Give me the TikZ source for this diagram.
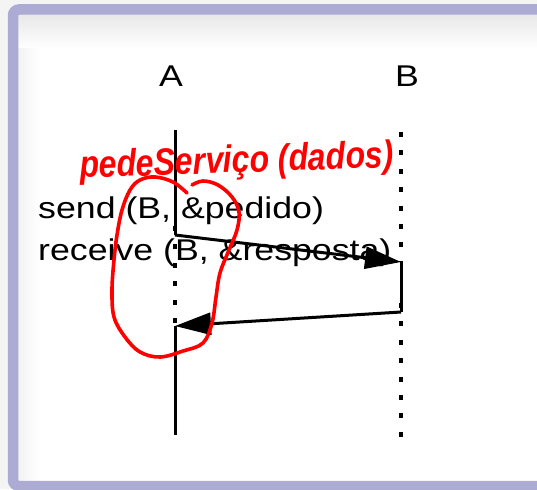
\documentclass[tikz,border=0pt]{standalone}
\usepackage{fontspec}
\setmainfont{Liberation Sans}
\usetikzlibrary{arrows.meta}
\definecolor{framepurple}{RGB}{171,171,211}
\definecolor{outsidegrey}{RGB}{244,244,244}
\definecolor{ink}{RGB}{255,0,0}
\tikzset{
  lbl/.style={font=\fontsize{30}{36}\selectfont, inner sep=0pt, xscale=1.19},
  life/.style={line width=3pt},
  lifedot/.style={line width=4pt, dash pattern=on 5pt off 13.4pt},
  msg/.style={line width=3pt, -{Triangle[length=36pt,width=22pt]}},
  hand/.style={ink, line width=3.6pt, line cap=round, line join=round},
}
\begin{document}
\begin{tikzpicture}[x=1pt,y=-1pt]
\useasboundingbox (0,0) rectangle (537,489);
% background and frame
\fill[outsidegrey] (0,0) rectangle (537,489);
\fill[white] (13,9.5) rectangle (560,486);
\shade[left color=black!5, right color=white] (18,15) rectangle (40,484);
\shade[top color=black!9, bottom color=white] (18,15) rectangle (537,48);
\draw[framepurple, line width=10.5pt, rounded corners=6pt] (13,9.5) rectangle (570,486);
% labels
\node[lbl, anchor=base] (A) at (171,87) {A};
\node[lbl, anchor=base] (B) at (407,87) {B};
% lifelines
\coordinate (a0) at (175,130);
\coordinate (a1) at (175,235);
\coordinate (a2) at (175,326);
\coordinate (a3) at (175,435);
\coordinate (b0) at (401,132);
\coordinate (b1) at (401,262);
\coordinate (b2) at (401,312);
\coordinate (b3) at (401,442);
\draw[life] (a0) -- (a1);
\draw[lifedot] ([yshift=9pt]a1) -- (a2);
\draw[life] (a2) -- (a3);
\draw[lifedot] (b0) -- (b1);
\draw[life] (b1) -- (b2);
\draw[lifedot] ([yshift=9pt]b2) -- (b3);
% texts
\node[lbl, anchor=base west] (send) at (38,218) {send (B, \&pedido)};
\node[lbl, anchor=base west] (recv) at (38,260) {receive (B, \&resposta)};
% messages
\draw[msg] (a1) -- (b1);
\draw[msg] (b2) -- (a2);
% handwritten annotation
\node[ink, font=\fontsize{38}{42}\selectfont\itshape\bfseries, inner sep=0pt, anchor=base west, rotate=2, xscale=0.84] (note) at (80,178) {pedeServiço (dados)};
\draw[hand] plot[smooth, tension=0.6] coordinates {
 (187,193) (173,182) (155,177) (140,180) (130,190) (122,210) (117,235) (114,260) (112,290)
 (114,317) (125,337) (140,352) (160,357) (183,351) (203,343) (212,323) (216,297) (220,273)
 (229,250) (237,230) (239,212) (232,197) (218,185) (203,181) (192,185)};
\end{tikzpicture}
\end{document}
